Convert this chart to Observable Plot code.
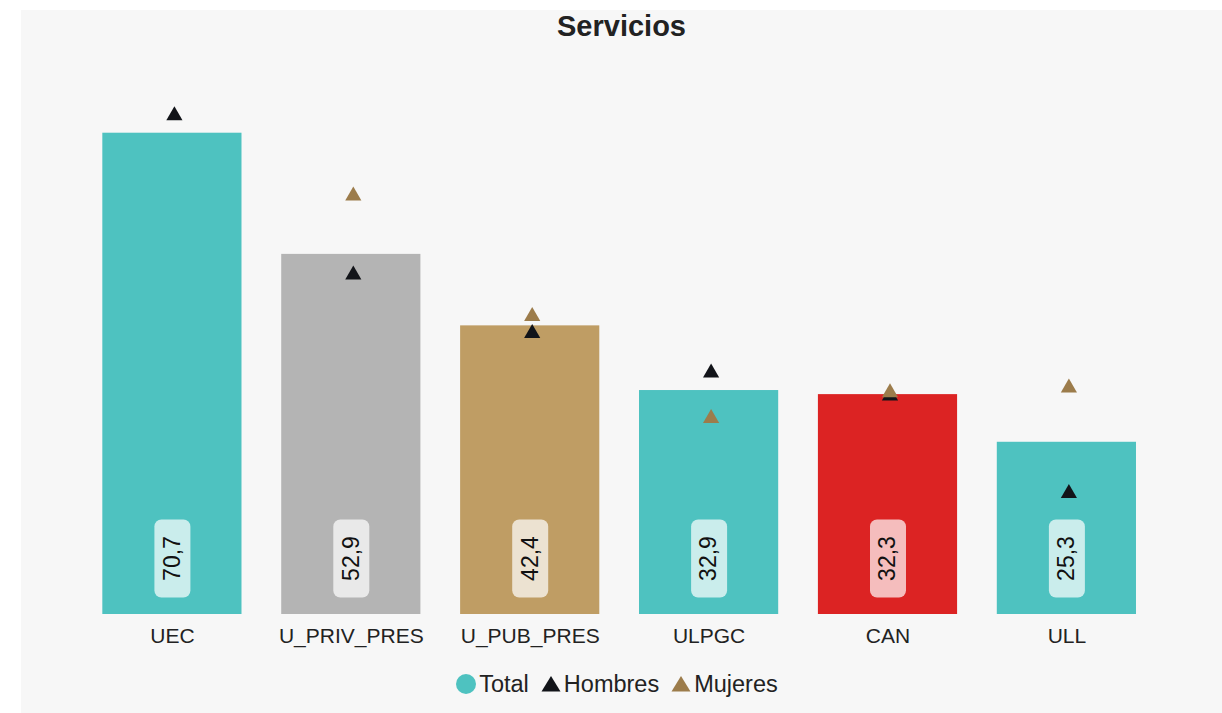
<!DOCTYPE html>
<html>
<head>
<meta charset="utf-8">
<script src="https://cdn.jsdelivr.net/npm/d3@7"></script>
<script src="https://cdn.jsdelivr.net/npm/@observablehq/plot@0.6"></script>
<style>
  html, body { margin: 0; padding: 0; background: #ffffff; }
  body { width: 1222px; height: 713px; position: relative; overflow: hidden; font-family: "Liberation Sans", Arial, sans-serif; }
  #panel { position: absolute; left: 21px; top: 10px; width: 1201px; height: 703px; background: #f7f7f7; }
  #title { height: 32px; line-height: 32px; text-align: center; font-size: 29px; font-weight: bold; color: #222; }
  #chart svg { display: block; }
  #legend { height: 44px; display: flex; justify-content: center; align-items: center; font-size: 23.5px; color: #222; padding-right: 9px; }
  #legend .item { display: flex; align-items: center; margin: 0 6px; }
  #legend svg { margin-right: 3px; }
</style>
</head>
<body>
<div id="panel">
  <div id="title">Servicios</div>
  <div id="chart"></div>
  <div id="legend"></div>
</div>
<script>
const categories = ["UEC", "U_PRIV_PRES", "U_PUB_PRES", "ULPGC", "CAN", "ULL"];
const total   = [70.7, 52.9, 42.4, 32.9, 32.3, 25.3];
const hombres = [73.6, 50.2, 41.6, 35.8, 32.4, 18.1];
const mujeres = [null, 61.8, 44.1, 29.1, 32.9, 33.6];
const seriesNames = ["Total", "Hombres", "Mujeres"];

const barColors = {UEC: "#4ec2c0", U_PRIV_PRES: "#b4b4b4", U_PUB_PRES: "#bf9d64", ULPGC: "#4ec2c0", CAN: "#dc2323", ULL: "#4ec2c0"};
const seriesColors = {Total: "#4ec2c0", Hombres: "#121419", Mujeres: "#9c7c4b"};

const bars = categories.map((c, i) => ({cat: c, value: total[i]}));
const hPts = categories.map((c, i) => ({cat: c, value: hombres[i]})).filter(d => d.value != null);
const mPts = categories.map((c, i) => ({cat: c, value: mujeres[i]})).filter(d => d.value != null);

const fmt = v => v.toFixed(1).replace(".", ",");

// rounded label box symbol
const boxSymbol = {
  draw(ctx) {
    const w = 36, h = 78, r = 7, x = -w / 2, y = -h / 2;
    ctx.moveTo(x + r, y);
    ctx.lineTo(x + w - r, y);
    ctx.arcTo(x + w, y, x + w, y + r, r);
    ctx.lineTo(x + w, y + h - r);
    ctx.arcTo(x + w, y + h, x + w - r, y + h, r);
    ctx.lineTo(x + r, y + h);
    ctx.arcTo(x, y + h, x, y + h - r, r);
    ctx.lineTo(x, y + r);
    ctx.arcTo(x, y, x + r, y, r);
    ctx.closePath();
  }
};

const chart = Plot.plot({
  width: 1201,
  height: 620,
  marginLeft: 41.6,
  marginRight: 46.3,
  marginTop: 27.4,
  marginBottom: 48,
  style: {background: "transparent", fontFamily: "'Liberation Sans', Arial, sans-serif"},
  x: {domain: categories, padding: 0.222, round: false, label: null},
  y: {domain: [0, 80], axis: null},
  marks: [
    Plot.barY(bars, {x: "cat", y: "value", fill: d => barColors[d.cat]}),
    Plot.dot(bars, {x: "cat", frameAnchor: "bottom", dy: -56, symbol: boxSymbol, r: 10, fill: "white", fillOpacity: 0.7, stroke: "none"}),
    Plot.text(bars, {x: "cat", frameAnchor: "bottom", dy: -56, text: d => fmt(d.value), rotate: -90, fontSize: 23, fill: "#111", textAnchor: "middle", lineAnchor: "middle"}),
    Plot.dot(hPts, {x: "cat", y: "value", symbol: "triangle", r: 6, fill: seriesColors.Hombres, stroke: "none", dx: 2, dy: 2}),
    Plot.dot(mPts, {x: "cat", y: "value", symbol: "triangle", r: 6, fill: seriesColors.Mujeres, stroke: "none", dx: 2, dy: 2}),
    Plot.axisX({tickSize: 0, tickPadding: 14, fontSize: 21, fill: "#222", label: null})
  ]
});
document.getElementById("chart").appendChild(chart);

// legend
const legend = document.getElementById("legend");
seriesNames.forEach(name => {
  const item = document.createElement("span");
  item.className = "item";
  const ns = "http://www.w3.org/2000/svg";
  const s = document.createElementNS(ns, "svg");
  s.setAttribute("width", 20);
  s.setAttribute("height", 20);
  if (name === "Total") {
    const c = document.createElementNS(ns, "circle");
    c.setAttribute("cx", 10); c.setAttribute("cy", 10); c.setAttribute("r", 10);
    c.setAttribute("fill", seriesColors[name]);
    s.appendChild(c);
  } else {
    const p = document.createElementNS(ns, "path");
    p.setAttribute("d", "M10,2 L19.5,17.5 L0.5,17.5 Z");
    p.setAttribute("fill", seriesColors[name]);
    s.appendChild(p);
  }
  item.appendChild(s);
  const t = document.createElement("span");
  t.textContent = name;
  item.appendChild(t);
  legend.appendChild(item);
});
</script>
</body>
</html>
